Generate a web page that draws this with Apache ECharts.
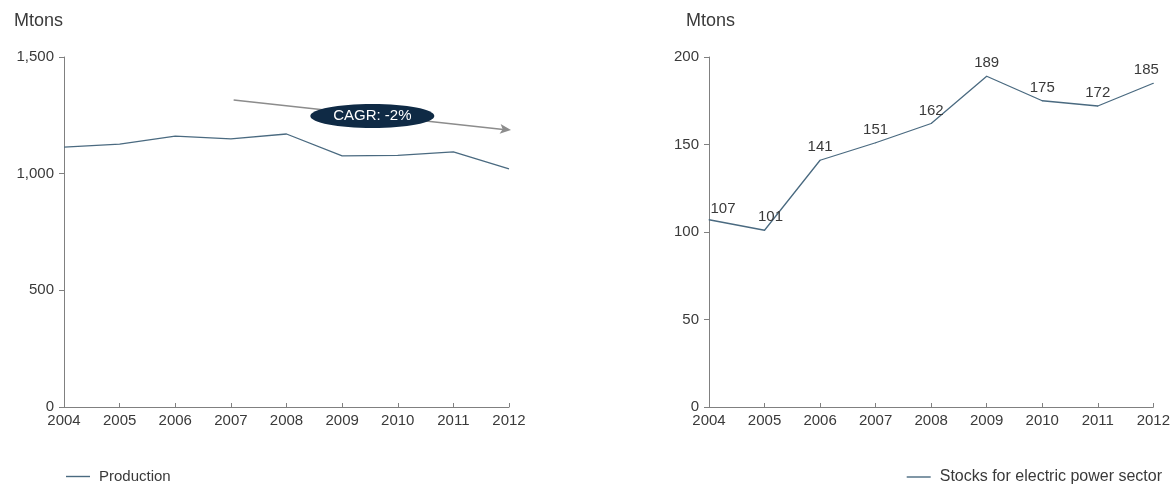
<!DOCTYPE html>
<html>
<head>
<meta charset="utf-8">
<script src="https://cdn.jsdelivr.net/npm/echarts@6/dist/echarts.min.js"></script>
<style>
  html, body { margin: 0; padding: 0; background: #fff; }
  #chart { width: 1173px; height: 486px; }
</style>
</head>
<body>
<div id="chart"></div>
<script>
// Coal production and stocks held by the electric power sector, Mtons
const years = ['2004', '2005', '2006', '2007', '2008', '2009', '2010', '2011', '2012'];
const production = [1114, 1127, 1161, 1149, 1170, 1076, 1078, 1093, 1021];
const stocks = [107, 101, 141, 151, 162, 189, 175, 172, 185];
const productionTicks = [0, 500, 1000, 1500];
const stockTicks = [0, 50, 100, 150, 200];
const cagrText = 'CAGR: -2%';

const FONT = '"Liberation Sans", Arial, sans-serif';
const TEXT = '#3a3a3a';
const AXIS = '#808080';
const LINE = '#4a6a80';

function xAxis(gridIndex) {
  return {
    type: 'category', gridIndex, data: years, boundaryGap: false,
    axisLine: { lineStyle: { color: AXIS, width: 1 } },
    axisTick: { inside: true, length: 4, lineStyle: { color: AXIS } },
    axisLabel: { color: TEXT, fontFamily: FONT, fontSize: 15, margin: 6 }
  };
}
function yAxis(gridIndex, ticks) {
  return {
    type: 'value', gridIndex,
    min: ticks[0], max: ticks[ticks.length - 1], interval: ticks[1] - ticks[0],
    axisLine: { show: true, lineStyle: { color: AXIS, width: 1 } },
    axisTick: { show: true, length: 5, lineStyle: { color: AXIS } },
    splitLine: { show: false },
    axisLabel: {
      color: TEXT, fontFamily: FONT, fontSize: 15, margin: 10,
      formatter: v => v.toLocaleString('en-US')
    }
  };
}

// small nudges so the end labels stay clear of the axes
const labelShift = { 0: [14, 2], 1: [6, 0], 8: [-7, 0] };
const stockData = stocks.map((v, i) => labelShift[i]
  ? { value: v, label: { offset: labelShift[i] } }
  : v);

// plain line swatch for the legends
const legendLine = 'rect';

const chart = echarts.init(document.getElementById('chart'), null, { renderer: 'canvas' });
chart.setOption({
  animation: false,
  textStyle: { fontFamily: FONT },
  grid: [
    { left: 64, top: 57, width: 445, bottom: 79 },
    { left: 709, top: 57, width: 446, bottom: 79 }
  ],
  title: [
    { text: 'Mtons', left: 9, top: 7, textStyle: { fontSize: 18, fontWeight: 'normal', color: TEXT, fontFamily: FONT } },
    { text: 'Mtons', left: 681, top: 7, textStyle: { fontSize: 18, fontWeight: 'normal', color: TEXT, fontFamily: FONT } }
  ],
  legend: [
    { data: ['Production'], left: 61, top: 464, icon: legendLine, itemWidth: 24, itemHeight: 1.4, itemGap: 10,
      textStyle: { color: TEXT, fontSize: 15, fontFamily: FONT, padding: [0, 0, 0, 4] } },
    { data: ['Stocks for electric power sector'], right: 6, top: 464, icon: legendLine, itemWidth: 24, itemHeight: 1.4,
      textStyle: { color: TEXT, fontSize: 16, fontFamily: FONT, padding: [0, 0, 0, 4] } }
  ],
  xAxis: [xAxis(0), xAxis(1)],
  yAxis: [yAxis(0, productionTicks), yAxis(1, stockTicks)],
  series: [
    { name: 'Production', type: 'line', xAxisIndex: 0, yAxisIndex: 0, data: production,
      symbol: 'none', lineStyle: { color: LINE, width: 1.3 }, itemStyle: { color: LINE } },
    { name: 'Stocks for electric power sector', type: 'line', xAxisIndex: 1, yAxisIndex: 1, data: stockData,
      symbol: 'circle', symbolSize: 1, showSymbol: true,
      lineStyle: { color: LINE, width: 1.3 }, itemStyle: { color: LINE },
      label: { show: true, position: 'top', distance: 5, color: TEXT, fontSize: 15, fontFamily: FONT } }
  ]
});

// Trend arrow with the CAGR badge over the production line
const p0 = chart.convertToPixel({ gridIndex: 0 }, [3, 1316]);
const p1 = chart.convertToPixel({ gridIndex: 0 }, [8, 1187]);
const step = (p1[0] - p0[0]) / 5;
const start = [p0[0] + step * 0.05, p0[1]];
const end = [p1[0] + 2, p1[1]];
const ang = Math.atan2(end[1] - start[1], end[0] - start[0]);
const head = 12, spread = 0.42;
const cx = start[0] + (end[0] - start[0]) * 0.5;
const cy = start[1] + (end[1] - start[1]) * 0.5 + 1;
chart.setOption({
  graphic: [
    { type: 'line', shape: { x1: start[0], y1: start[1], x2: end[0] - 3, y2: end[1] },
      style: { stroke: '#8c8c8c', lineWidth: 1.4 }, z: 10 },
    { type: 'polygon', shape: { points: [
        end,
        [end[0] - head * Math.cos(ang - spread), end[1] - head * Math.sin(ang - spread)],
        [end[0] - head * 0.7 * Math.cos(ang), end[1] - head * 0.7 * Math.sin(ang)],
        [end[0] - head * Math.cos(ang + spread), end[1] - head * Math.sin(ang + spread)]
      ] }, style: { fill: '#8c8c8c' }, z: 10 },
    { type: 'ellipse', shape: { cx: cx, cy: cy, rx: 62, ry: 12 },
      style: { fill: '#0f2a45' }, z: 11 },
    { type: 'text', x: cx, y: cy, z: 12,
      style: { text: cagrText, fill: '#ffffff', font: '15px ' + FONT, align: 'center', verticalAlign: 'middle' } }
  ]
});
</script>
</body>
</html>
